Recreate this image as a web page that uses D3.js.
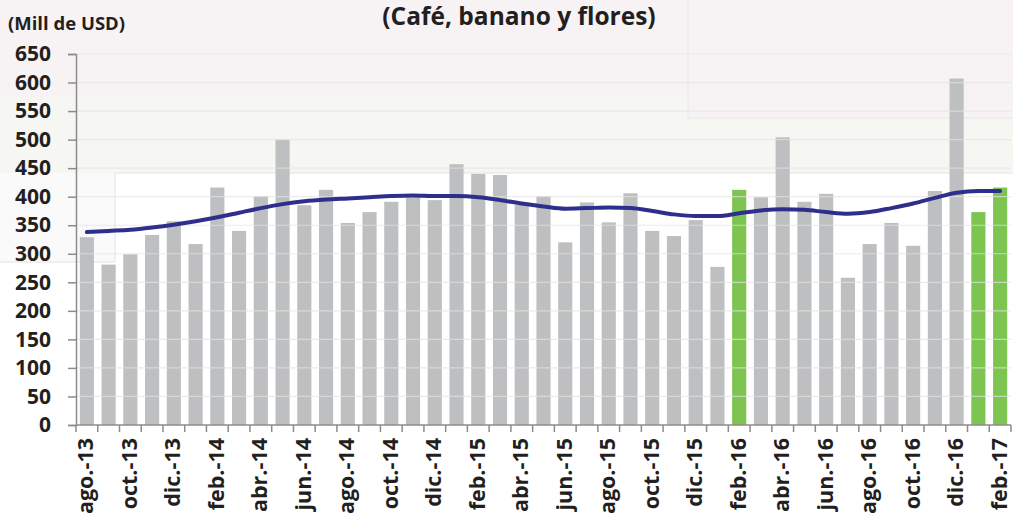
<!DOCTYPE html>
<html>
<head>
<meta charset="utf-8">
<script src="https://cdn.jsdelivr.net/npm/d3@7"></script>
<style>
  body { margin: 0; background: #fff; }
  text { font-family: "Open Sans", sans-serif; font-weight: bold; fill: #231f20; }
</style>
</head>
<body>
<svg id="chart" width="1013" height="520"></svg>
<script>
// monthly exports, ago-13 .. feb-17
var months = ["ago.-13","sep.-13","oct.-13","nov.-13","dic.-13",
  "ene.-14","feb.-14","mar.-14","abr.-14","may.-14","jun.-14","jul.-14","ago.-14","sep.-14","oct.-14","nov.-14","dic.-14",
  "ene.-15","feb.-15","mar.-15","abr.-15","may.-15","jun.-15","jul.-15","ago.-15","sep.-15","oct.-15","nov.-15","dic.-15",
  "ene.-16","feb.-16","mar.-16","abr.-16","may.-16","jun.-16","jul.-16","ago.-16","sep.-16","oct.-16","nov.-16","dic.-16",
  "ene.-17","feb.-17"];
var exportsVal = [329,281,299,333,357,
  317,416,340,401,500,385,412,354,373,391,399,394,
  457,440,438,386,401,320,390,355,406,340,331,359,
  277,412,399,504,391,405,258,317,354,314,410,607,
  373,416];
var trendVal = [338,340,342,346,351,
  357,364,372,380,387,392,395,397,399,401,402,401,
  401,399,394,388,383,379,380,381,380,375,369,366,
  366,371,376,378,377,373,370,373,380,388,398,407,
  410,410];
var highlighted = ["feb.-16","ene.-17","feb.-17"];
var yTicks = d3.range(0, 651, 50);

var svg = d3.select("#chart"),
    margin = {top: 54, right: 2, bottom: 95, left: 76},
    W = +svg.attr("width"), H = +svg.attr("height");

// background patches (pasted-image look)
svg.append("rect").attr("x",0).attr("y",0).attr("width",W).attr("height",H).attr("fill","#fff");
svg.append("rect").attr("x",0).attr("y",0).attr("width",W).attr("height",97).attr("fill","#f7f3f4");
svg.append("rect").attr("x",688).attr("y",0).attr("width",W-688).attr("height",118).attr("fill","#f7f3f4");
svg.append("rect").attr("x",0).attr("y",97).attr("width",688).attr("height",76).attr("fill","#f6f6f2");
svg.append("rect").attr("x",688).attr("y",118).attr("width",W-688).attr("height",55).attr("fill","#f6f6f2");
svg.append("rect").attr("x",0).attr("y",173).attr("width",115).attr("height",89).attr("fill","#fafafa");
var art = svg.append("g").attr("fill","none").attr("stroke","#ebebeb").attr("stroke-width",1.5);
art.append("path").attr("d","M688,0V118H1013");
art.append("path").attr("d","M115,262V173H1013");
art.append("path").attr("d","M0,262H115");

var x = d3.scaleBand().domain(months)
    .range([margin.left, W - margin.right]).paddingInner(0.35).paddingOuter(0.175);
var y = d3.scaleLinear().domain([0, 650]).range([H - margin.bottom, margin.top]);

// bars
svg.append("g").selectAll("rect").data(months).join("rect")
  .attr("x", d => x(d))
  .attr("width", x.bandwidth())
  .attr("y", (d, i) => y(exportsVal[i]))
  .attr("height", (d, i) => y(0) - y(exportsVal[i]))
  .attr("fill", d => highlighted.includes(d) ? "#7ec450" : "#bebfc1");

// gridlines over the bars
svg.append("g").selectAll("line").data(yTicks.slice(1)).join("line")
  .attr("x1", margin.left).attr("x2", W - margin.right)
  .attr("y1", d => y(d)).attr("y2", d => y(d))
  .attr("stroke", "#e2e2e2").attr("stroke-opacity", 0.7).attr("stroke-width", 1.2);

// trend line
var line = d3.line()
  .x((d, i) => x(months[i]) + x.bandwidth() / 2)
  .y(d => y(d))
  .curve(d3.curveMonotoneX);
svg.append("path").datum(trendVal)
  .attr("d", line)
  .attr("fill", "none")
  .attr("stroke", "#2e2e8c")
  .attr("stroke-width", 4)
  .attr("stroke-linecap", "round");

// y axis
var yAxis = svg.append("g")
  .attr("transform", "translate(" + margin.left + ",0)")
  .call(d3.axisLeft(y).tickValues(yTicks).tickSize(8).tickPadding(17));
yAxis.select(".domain").attr("stroke", "#8c8c8c").attr("stroke-width", 1.5);
yAxis.selectAll(".tick line").attr("stroke", "#8c8c8c").attr("stroke-width", 1.5);
yAxis.selectAll(".tick text").attr("font-size", 21).attr("font-family", "Open Sans").attr("font-weight", "bold").attr("fill", "#231f20");

// x axis: ticks at every band boundary
var xg = svg.append("g");
xg.append("line").attr("x1", margin.left).attr("x2", W - margin.right)
  .attr("y1", y(0)).attr("y2", y(0)).attr("stroke", "#8c8c8c").attr("stroke-width", 1.5);
var step = x.step();
xg.selectAll(".xt").data(months.concat(["end"])).join("line").attr("class","xt")
  .attr("x1", (d, i) => margin.left + i * step)
  .attr("x2", (d, i) => margin.left + i * step)
  .attr("y1", y(0)).attr("y2", y(0) + 7)
  .attr("stroke", "#8c8c8c").attr("stroke-width", 1.5);
xg.selectAll("text").data(months.filter((d, i) => i % 2 === 0)).join("text")
  .attr("transform", d => "translate(" + (x(d) + x.bandwidth() / 2 + 6.5) + "," + (y(0) + 13) + ") rotate(-90)")
  .attr("text-anchor", "end")
  .attr("font-size", 21.5)
  .text(d => d);

// titles
svg.append("text").attr("x", 8).attr("y", 30).attr("font-size", 18.5).text("(Mill de USD)");
svg.append("text").attr("x", 519).attr("y", 25).attr("text-anchor", "middle").attr("font-size", 24.5).text("(Café, banano y flores)");
</script>
</body>
</html>
